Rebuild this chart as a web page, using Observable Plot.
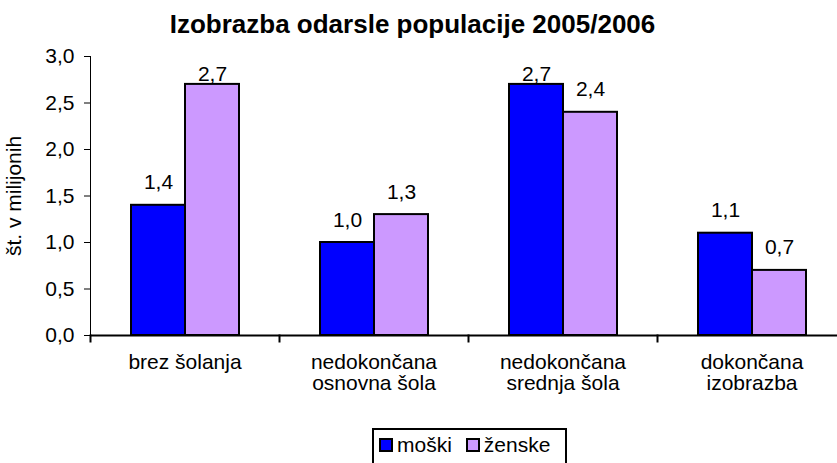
<!DOCTYPE html>
<html>
<head>
<meta charset="utf-8">
<script src="https://cdn.jsdelivr.net/npm/d3@7"></script>
<script src="https://cdn.jsdelivr.net/npm/@observablehq/plot@0.6"></script>
<style>
  html, body { margin: 0; padding: 0; background: white; overflow: hidden; width: 837px; height: 463px; }
  #wrap { position: relative; width: 837px; height: 463px; font-family: "Liberation Sans", Arial, sans-serif; }
  #title { position: absolute; left: -6px; top: 0; width: 837px; text-align: center; font-weight: bold; font-size: 26px; line-height: 48px; color: black; }
  #chart { position: absolute; left: 0; top: 40px; }
  #chart svg { max-width: none; }
  #legend { position: absolute; left: 372px; top: 428px; width: 191px; height: 50px; border: 2px solid black; box-sizing: content-box; }
  #legend .row { display: flex; align-items: center; padding-top: 3px; padding-left: 5px; font-size: 21px; line-height: 24px; }
  #legend .sw { width: 10px; height: 10px; border: 2px solid black; margin-right: 4px; }
  #legend .item { display: flex; align-items: center; margin-right: 14px; }
</style>
</head>
<body>
<div id="wrap">
  <div id="title">Izobrazba odarsle populacije 2005/2006</div>
  <div id="chart"></div>
  <div id="legend"><div class="row"></div></div>
</div>
<script>
const categories = ["brez šolanja", "nedokončana\nosnovna šola", "nedokončana\nsrednja šola", "dokončana\nizobrazba"];
const series = ["moški", "ženske"];
const moski = [1.4, 1.0, 2.7, 1.1];
const zenske = [2.7, 1.3, 2.4, 0.7];
const yTicks = [0, 0.5, 1.0, 1.5, 2.0, 2.5, 3.0];
const colors = ["#0000ff", "#cc99ff"];
const yLabel = "št. v milijonih";

const fmt = v => v.toFixed(1).replace(".", ",");

const data = [];
categories.forEach((c, i) => {
  data.push({category: c, series: series[0], value: moski[i]});
  data.push({category: c, series: series[1], value: zenske[i]});
});

const yMax = 3;
const headroom = 0.35; // labels that would leave the plot area are kept inside it
const freeLabels = data.filter(d => d.value <= yMax - headroom);
const topLabels = data.filter(d => d.value > yMax - headroom);

const W = 860, H = 380, MT = 16, MB = 85, ML = 88, MR = 13;
const innerH = H - MT - MB;

const chart = Plot.plot({
  width: W,
  height: H,
  marginTop: MT,
  marginBottom: MB,
  marginLeft: ML,
  marginRight: MR,
  style: {fontFamily: "'Liberation Sans', Arial, sans-serif", fontSize: "21px", color: "black", background: "white"},
  fx: {domain: categories, padding: 0, axis: "bottom", tickSize: 0, tickPadding: 19, label: null},
  x: {domain: series, paddingInner: 0, paddingOuter: 0.739, axis: null},
  y: {domain: [0, yMax], ticks: yTicks, tickFormat: fmt, tickSize: 6, tickPadding: 10, label: yLabel, labelAnchor: "center", labelOffset: 84, labelArrow: "none", line: true},
  color: {domain: series, range: colors},
  marks: [
    Plot.barY(data, {fx: "category", x: "series", y: "value", fill: "series", stroke: "black", strokeWidth: 2}),
    Plot.ruleY([0], {stroke: "black", strokeWidth: 2}),
    Plot.frame({anchor: "left", insetTop: innerH, insetBottom: -6, stroke: "black", strokeWidth: 2}),
    Plot.text(freeLabels, {fx: "category", x: "series", y: "value", text: d => fmt(d.value), lineAnchor: "bottom", dy: -16, fill: "black", fontSize: 21}),
    Plot.text(topLabels, {fx: "category", x: "series", frameAnchor: "top", text: d => fmt(d.value), lineAnchor: "bottom", dy: 24, fill: "black", fontSize: 21})
  ]
});
document.getElementById("chart").appendChild(chart);

const row = document.querySelector("#legend .row");
series.forEach((s, i) => {
  const item = document.createElement("div");
  item.className = "item";
  const sw = document.createElement("div");
  sw.className = "sw";
  sw.style.background = colors[i];
  const t = document.createElement("span");
  t.textContent = s;
  item.appendChild(sw);
  item.appendChild(t);
  row.appendChild(item);
});
</script>
</body>
</html>
